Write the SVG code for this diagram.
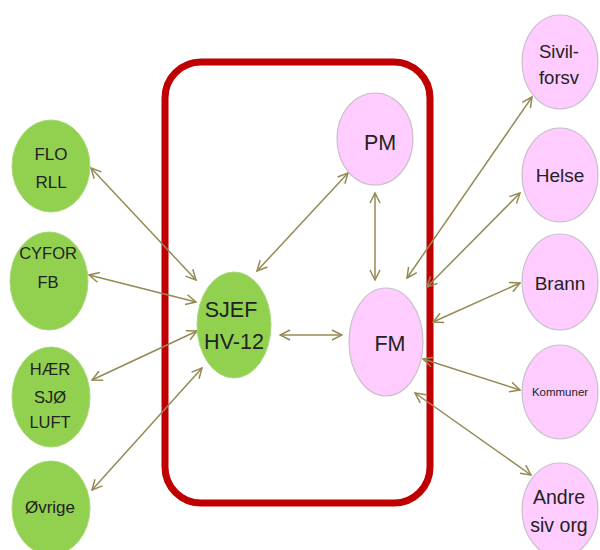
<svg xmlns="http://www.w3.org/2000/svg" width="600" height="550" viewBox="0 0 600 550">
<style>
.g{fill:#92D050;stroke:#A9D878;stroke-width:1}
.p{fill:#FFCCFF;stroke:#C8C0C8;stroke-width:1.2}
text{font-family:"Liberation Sans",Arial,sans-serif;fill:#222;text-anchor:middle}
.c line{stroke:#948A54;stroke-width:1.5;marker-start:url(#a);marker-end:url(#a)}
</style>
<defs>
<marker id="a" viewBox="0 0 12 12" refX="11" refY="6" markerWidth="12" markerHeight="12" markerUnits="userSpaceOnUse" orient="auto-start-reverse">
<path d="M1,1 L11,6 L1,11" fill="none" stroke="#948A54" stroke-width="1.5"/>
</marker>
</defs>
<rect x="165" y="62" width="265" height="441" rx="36" fill="none" stroke="#C00000" stroke-width="7"/>
<g class="c">
<line x1="91" y1="168" x2="196" y2="280"/>
<line x1="89" y1="275" x2="196" y2="302"/>
<line x1="92" y1="380" x2="197" y2="331"/>
<line x1="92" y1="490" x2="202" y2="368"/>
<line x1="257" y1="271" x2="348" y2="173"/>
<line x1="280" y1="335" x2="342" y2="335"/>
<line x1="375" y1="193" x2="375" y2="280"/>
<line x1="407" y1="278" x2="532" y2="97"/>
<line x1="427" y1="287" x2="520" y2="193"/>
<line x1="433" y1="322" x2="520" y2="283"/>
<line x1="423" y1="359" x2="520" y2="390"/>
<line x1="415" y1="393" x2="531" y2="475"/>
</g>
<g id="flo"><ellipse class="g" cx="51" cy="166" rx="39" ry="46"/><text x="51" y="160" font-size="17">FLO</text><text x="51" y="188" font-size="17">RLL</text></g>
<g id="cyfor"><ellipse class="g" cx="49" cy="281" rx="39" ry="49"/><text x="48" y="259" font-size="16.5">CYFOR</text><text x="48" y="288" font-size="16.5">FB</text></g>
<g id="haer"><ellipse class="g" cx="51" cy="397" rx="39" ry="50"/><text x="50" y="375" font-size="16.5">HÆR</text><text x="50" y="403" font-size="16.5">SJØ</text><text x="50" y="428" font-size="16.5">LUFT</text></g>
<g id="ovrige"><ellipse class="g" cx="51" cy="508" rx="39" ry="47"/><text x="50" y="513" font-size="17">Øvrige</text></g>
<g id="sjef"><ellipse class="g" cx="234" cy="325" rx="37" ry="53"/><text x="231" y="317" font-size="21.5">SJEF</text><text x="234" y="349" font-size="21.5">HV-12</text></g>
<g id="pm"><ellipse class="p" cx="375" cy="139" rx="38" ry="46"/><text x="380" y="150" font-size="21.5">PM</text></g>
<g id="fm"><ellipse class="p" cx="386" cy="342" rx="37" ry="54"/><text x="390" y="351" font-size="21.5">FM</text></g>
<g id="sivil"><ellipse class="p" cx="560" cy="62" rx="38" ry="47"/><text x="559" y="58" font-size="18.5">Sivil-</text><text x="559" y="84" font-size="18.5">forsv</text></g>
<g id="helse"><ellipse class="p" cx="560" cy="175" rx="38" ry="47"/><text x="560" y="182" font-size="19">Helse</text></g>
<g id="brann"><ellipse class="p" cx="560" cy="282" rx="38" ry="48"/><text x="560" y="290" font-size="19">Brann</text></g>
<g id="kommuner"><ellipse class="p" cx="560" cy="392" rx="38" ry="47"/><text x="560" y="396" font-size="11.5">Kommuner</text></g>
<g id="andre"><ellipse class="p" cx="560" cy="510" rx="38" ry="47"/><text x="559" y="504" font-size="19.5">Andre</text><text x="559" y="532" font-size="19.5">siv org</text></g>
</svg>
